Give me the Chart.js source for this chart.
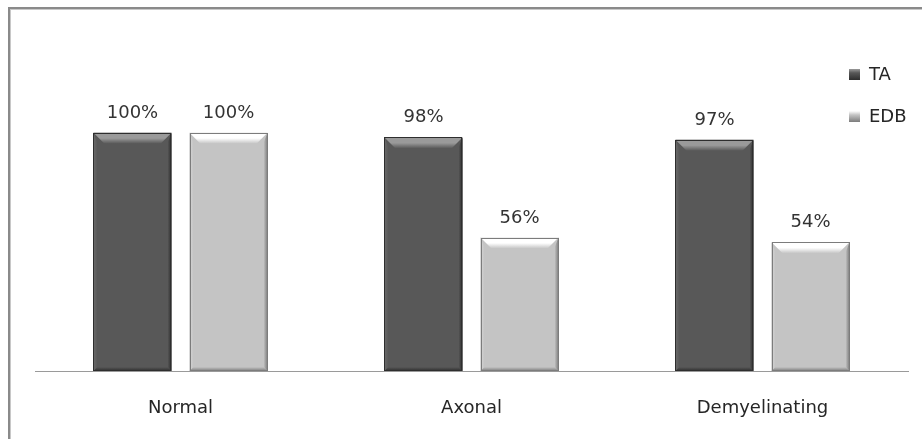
<!DOCTYPE html>
<html>
<head>
<meta charset="utf-8">
<script src="https://cdn.jsdelivr.net/npm/chart.js@4"></script>
<style>
  html, body { margin: 0; padding: 0; background: #fff; }
  canvas { display: block; }
</style>
</head>
<body>
<canvas id="chart" width="922" height="439"></canvas>
<script>
// ----------------------
// Data
// ----------------------
const categories = ["Normal", "Axonal", "Demyelinating"];
const seriesNames = ["TA", "EDB"];
const taValues = [100, 98, 97];
const edbValues = [100, 56, 54];

// bar look: base, bevel light, edge dark
const barStyles = [
  { base: "#585858", light: "#9a9a9a", dark: "#2e2e2e", side: "#6a6a6a" },
  { base: "#c4c4c4", light: "#ffffff", dark: "#7c7c7c", side: "#d6d6d6" }
];

const FONT = "'DejaVu Sans', Verdana, sans-serif";

// ----------------------
// Plugins
// ----------------------
const framePlugin = {
  id: "frame",
  beforeDraw(chart) {
    const ctx = chart.ctx;
    ctx.save();
    ctx.fillStyle = "#8a8a8a";
    ctx.fillRect(8, 7, chart.width, 2);
    ctx.fillRect(8, 7, 2, chart.height);
    ctx.fillStyle = "#c8c8c8";
    ctx.fillRect(10, 9, chart.width, 1);
    ctx.fillRect(10, 9, 1, chart.height);
    ctx.restore();
  }
};

// bevel effect over each bar
const bevelPlugin = {
  id: "bevel",
  afterDatasetsDraw(chart) {
    const ctx = chart.ctx;
    chart.data.datasets.forEach((ds, i) => {
      const st = barStyles[i];
      chart.getDatasetMeta(i).data.forEach(bar => {
        const L = bar.x - bar.width / 2, R = bar.x + bar.width / 2;
        const T = bar.y, B = bar.base;
        const b = 11, s = 4;
        ctx.save();
        // top bevel
        let g = ctx.createLinearGradient(0, T, 0, T + b);
        g.addColorStop(0, st.light);
        g.addColorStop(0.5, st.light);
        g.addColorStop(1, st.base);
        ctx.fillStyle = g;
        ctx.beginPath();
        ctx.moveTo(L, T); ctx.lineTo(R, T);
        ctx.lineTo(R - b, T + b); ctx.lineTo(L + b, T + b);
        ctx.closePath(); ctx.fill();
        // left side
        g = ctx.createLinearGradient(L, 0, L + s, 0);
        g.addColorStop(0, st.side);
        g.addColorStop(1, st.base);
        ctx.fillStyle = g;
        ctx.beginPath();
        ctx.moveTo(L, T); ctx.lineTo(L + s, T + s + 6);
        ctx.lineTo(L + s, B - s); ctx.lineTo(L, B);
        ctx.closePath(); ctx.fill();
        // right side
        g = ctx.createLinearGradient(R - s, 0, R, 0);
        g.addColorStop(0, st.base);
        g.addColorStop(1, st.dark);
        ctx.fillStyle = g;
        ctx.beginPath();
        ctx.moveTo(R, T); ctx.lineTo(R - s, T + s + 6);
        ctx.lineTo(R - s, B - s); ctx.lineTo(R, B);
        ctx.closePath(); ctx.fill();
        // bottom
        g = ctx.createLinearGradient(0, B - s, 0, B);
        g.addColorStop(0, st.base);
        g.addColorStop(1, st.dark);
        ctx.fillStyle = g;
        ctx.beginPath();
        ctx.moveTo(L, B); ctx.lineTo(R, B);
        ctx.lineTo(R - s, B - s); ctx.lineTo(L + s, B - s);
        ctx.closePath(); ctx.fill();
        // outline
        ctx.strokeStyle = st.dark;
        ctx.lineWidth = 1;
        ctx.strokeRect(Math.round(L) + 0.5, Math.round(T) + 0.5, Math.round(R - L) - 1, Math.round(B - T) - 1);
        ctx.restore();
      });
    });
  }
};

// value labels above bars
const labelPlugin = {
  id: "valueLabels",
  afterDatasetsDraw(chart) {
    const ctx = chart.ctx;
    ctx.save();
    ctx.font = "18px " + FONT;
    ctx.fillStyle = "#333";
    ctx.textAlign = "center";
    ctx.textBaseline = "alphabetic";
    chart.data.datasets.forEach((ds, i) => {
      chart.getDatasetMeta(i).data.forEach((bar, j) => {
        ctx.fillText(ds.data[j] + "%", bar.x, bar.y - 15);
      });
    });
    ctx.restore();
  }
};

// legend on the right
const legendPlugin = {
  id: "sideLegend",
  afterDraw(chart) {
    const ctx = chart.ctx;
    ctx.save();
    ctx.font = "18px " + FONT;
    ctx.textBaseline = "middle";
    chart.data.datasets.forEach((ds, i) => {
      const st = barStyles[i];
      const x = 849, y = 69 + i * 42;
      const g = ctx.createLinearGradient(0, y, 0, y + 11);
      g.addColorStop(0, st.light);
      g.addColorStop(0.35, st.base);
      g.addColorStop(1, st.dark);
      ctx.fillStyle = g;
      ctx.fillRect(x, y, 11, 11);
      ctx.fillStyle = "#262626";
      ctx.fillText(ds.label, 869, y + 6);
    });
    ctx.restore();
  }
};

// ----------------------
// Chart
// ----------------------
new Chart(document.getElementById("chart"), {
  type: "bar",
  data: {
    labels: categories,
    datasets: [
      { label: seriesNames[0], data: taValues, backgroundColor: barStyles[0].base },
      { label: seriesNames[1], data: edbValues, backgroundColor: barStyles[1].base }
    ]
  },
  options: {
    responsive: false,
    animation: false,
    devicePixelRatio: 1,
    layout: { padding: { top: 85, left: 35, right: 14, bottom: 0 } },
    categoryPercentage: 0.66,
    barPercentage: 0.8125,
    plugins: {
      legend: { display: false },
      tooltip: { enabled: false }
    },
    scales: {
      x: {
        grid: { display: false, drawTicks: false },
        border: { display: true, color: "#9a9a9a", width: 1 },
        ticks: { color: "#262626", font: { family: FONT, size: 18 }, padding: 27 },
        afterFit(scale) { scale.height = 68; }
      },
      y: {
        display: false,
        min: 0,
        max: 120
      }
    }
  },
  plugins: [framePlugin, bevelPlugin, labelPlugin, legendPlugin]
});
</script>
</body>
</html>
